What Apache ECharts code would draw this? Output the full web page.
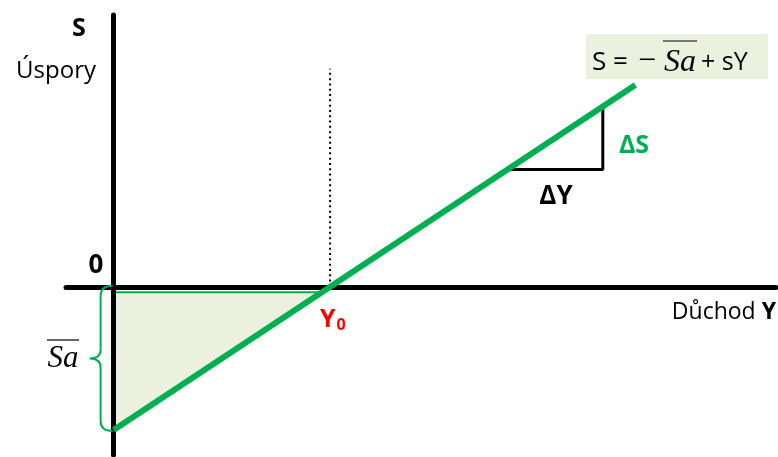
<!DOCTYPE html>
<html>
<head>
<meta charset="utf-8">
<script src="https://cdn.jsdelivr.net/npm/echarts@6/dist/echarts.min.js"></script>
<style>
html,body{margin:0;padding:0;background:#fff;}
#chart{width:778px;height:457px;}
</style>
</head>
<body>
<div id="chart"></div>
<script>
// ---- data ----
const incomeRange = [-22, 306];          // Y axis extent (income)
const savingRange = [-47, 76];           // S axis extent (saving)
const lineIncome = [0, 241];             // savings function S = -Sa + sY
const lineSaving = [-40, 56.4];
const y0Income = [100, 100];             // break-even income Y0 (dotted guide)
const y0Saving = [0, 61];
const triIncome = [182, 226, 226];       // slope triangle ΔY / ΔS
const triSaving = [32.8, 32.8, 50.4];
const fillIncome = [0, 96, 0];           // shaded dissaving triangle
const fillSaving = [-1.5, -1.5, -40];
const braceSaving = [0, -40];            // autonomous saving −Sa

const GREEN = '#00B050';
const LIGHT = '#EBF1DE';
const RED = '#FF0000';
const SANS = '"Open Sans", "Noto Sans", sans-serif';
const SERIF = '"Liberation Serif", "DejaVu Serif", serif';

const chart = echarts.init(document.getElementById('chart'), null, {renderer: 'canvas'});

const pairs = (xs, ys) => xs.map((x, i) => [x, ys[i]]);

const option = {
  animation: false,
  backgroundColor: '#fff',
  grid: {left: 66, width: 710, top: 15, height: 440},
  xAxis: {
    type: 'value', min: incomeRange[0], max: incomeRange[1], z: 1,
    axisLine: {onZero: true, lineStyle: {color: '#000', width: 5}},
    axisTick: {show: false}, axisLabel: {show: false}, splitLine: {show: false}
  },
  yAxis: {
    type: 'value', min: savingRange[0], max: savingRange[1], z: 1,
    axisLine: {onZero: true, lineStyle: {color: '#000', width: 5}},
    axisTick: {show: false}, axisLabel: {show: false}, splitLine: {show: false}
  },
  series: [
    {
      type: 'custom', z: 0, data: [0], silent: true,
      renderItem: function (params, api) {
        const pts = fillIncome.map((x, i) => api.coord([x, fillSaving[i]]));
        return {type: 'polygon', shape: {points: pts},
          style: {fill: LIGHT, stroke: GREEN, lineWidth: 2}};
      }
    },
    {
      type: 'line', z: 3, data: pairs(y0Income, y0Saving), symbol: 'none',
      lineStyle: {color: '#000', width: 2, type: [2, 3.3]}
    },
    {
      type: 'line', z: 3, data: pairs(triIncome, triSaving), symbol: 'none',
      lineStyle: {color: '#000', width: 3}
    },
    {
      type: 'line', z: 4, data: pairs(lineIncome, lineSaving), symbol: 'none',
      lineStyle: {color: GREEN, width: 6}
    },
    {
      type: 'custom', z: 3, data: [[0, braceSaving[0], braceSaving[1]]], silent: true,
      renderItem: function (params, api) {
        const t = api.coord([api.value(0), api.value(1)]);
        const b = api.coord([api.value(0), api.value(2)]);
        const xr = t[0] - 1, xv = t[0] - 13, xt = t[0] - 24;
        const ty = t[1] - 1, by = b[1] + 1, my = (ty + by) / 2;
        const d = 'M' + xr + ' ' + ty + ' Q' + xv + ' ' + ty + ' ' + xv + ' ' + (ty + 10) +
          ' L' + xv + ' ' + (my - 9) + ' Q' + xv + ' ' + my + ' ' + xt + ' ' + my +
          ' Q' + xv + ' ' + my + ' ' + xv + ' ' + (my + 9) +
          ' L' + xv + ' ' + (by - 10) + ' Q' + xv + ' ' + by + ' ' + xr + ' ' + by;
        return {type: 'path', shape: {pathData: d},
          style: {fill: null, stroke: GREEN, lineWidth: 2}};
      }
    }
  ],
  graphic: [
    {type: 'text', x: 79, y: 29, z: 10, style: {text: 'S', font: 'bold 25px ' + SANS, fill: '#000', align: 'center', verticalAlign: 'middle'}},
    {type: 'text', x: 96, y: 71, z: 10, style: {text: 'Úspory', font: '24px ' + SANS, fill: '#000', align: 'right', verticalAlign: 'middle'}},
    {type: 'text', x: 96, y: 266, z: 10, style: {text: '0', font: 'bold 26px ' + SANS, fill: '#000', align: 'center', verticalAlign: 'middle'}},
    {type: 'text', x: 320, y: 320, z: 10, style: {
      text: '{y|Y}{s|0}', align: 'left', verticalAlign: 'middle',
      rich: {y: {font: 'bold 25px ' + SANS, fill: RED}, s: {font: 'bold 16px ' + SANS, fill: RED, padding: [10, 0, 0, 1]}}
    }},
    {type: 'text', x: 776, y: 312, z: 10, style: {
      text: '{n|Důchod }{b|Y}', align: 'right', verticalAlign: 'middle',
      rich: {n: {font: '23px ' + SANS, fill: '#000'}, b: {font: 'bold 23px ' + SANS, fill: '#000'}}
    }},
    {type: 'text', x: 634, y: 146, z: 10, style: {text: 'ΔS', font: 'bold 25px ' + SANS, fill: GREEN, align: 'center', verticalAlign: 'middle'}},
    {type: 'text', x: 556, y: 197, z: 10, style: {text: 'ΔY', font: 'bold 26px ' + SANS, fill: '#000', align: 'center', verticalAlign: 'middle'}},
    // Sa label by the brace
    {type: 'text', x: 63, y: 359, z: 10, style: {text: 'Sa', font: 'italic 31px ' + SERIF, fill: '#000', align: 'center', verticalAlign: 'middle'}},
    {type: 'line', z: 10, shape: {x1: 47, y1: 340, x2: 79, y2: 340}, style: {stroke: '#000', lineWidth: 1.2}},
    // equation box
    {type: 'rect', z: 5, shape: {x: 586, y: 34, width: 182, height: 45}, style: {fill: LIGHT}},
    {type: 'text', x: 592, y: 63, z: 10, style: {text: 'S =', font: '26px ' + SANS, fill: '#000', align: 'left', verticalAlign: 'middle'}},
    {type: 'text', x: 647, y: 62, z: 10, style: {text: '−', font: '32px ' + SERIF, fill: '#000', align: 'center', verticalAlign: 'middle'}},
    {type: 'text', x: 680, y: 63, z: 10, style: {text: 'Sa', font: 'italic 32px ' + SERIF, fill: '#000', align: 'center', verticalAlign: 'middle'}},
    {type: 'line', z: 10, shape: {x1: 663, y1: 41, x2: 697, y2: 41}, style: {stroke: '#000', lineWidth: 1.2}},
    {type: 'text', x: 701, y: 63, z: 10, style: {text: '+ sY', font: '25px ' + SANS, fill: '#000', align: 'left', verticalAlign: 'middle'}}
  ]
};
chart.setOption(option);
</script>
</body>
</html>
